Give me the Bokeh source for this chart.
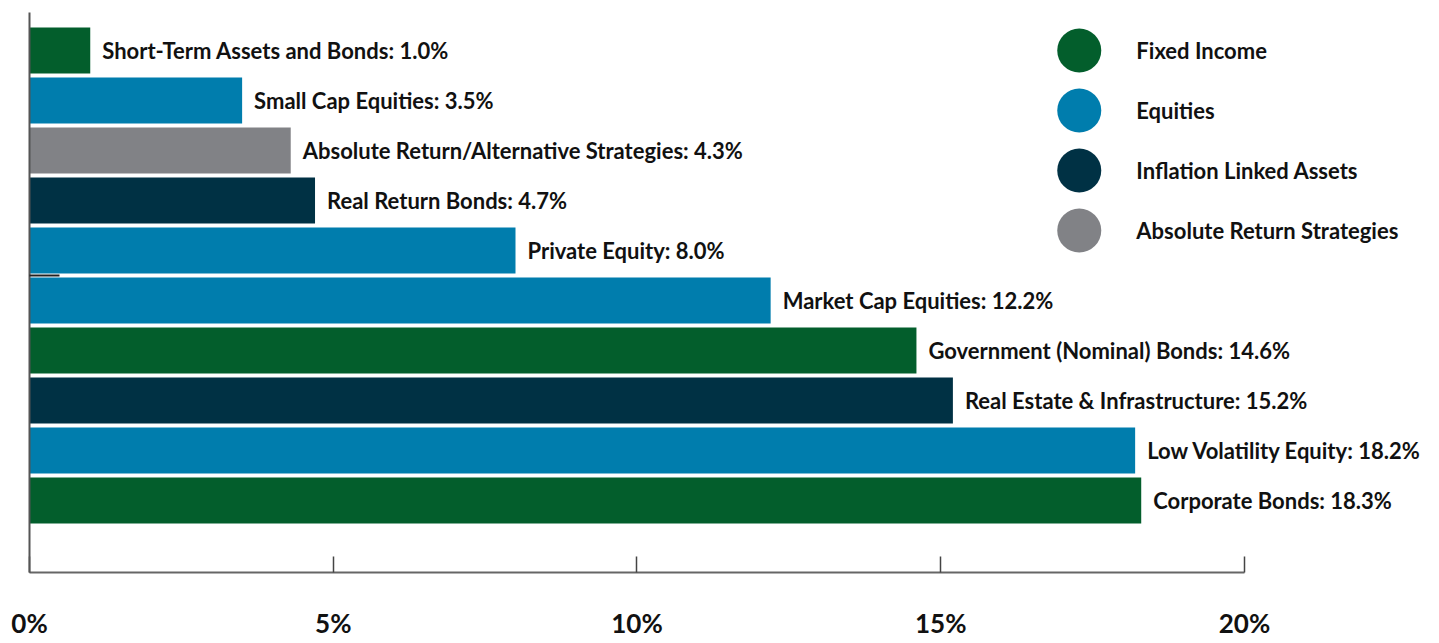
from bokeh.plotting import figure
from bokeh.models import Range1d, LinearAxis, FixedTicker, ColumnDataSource
from bokeh.core.properties import value
from bokeh.embed import file_html
from bokeh.resources import INLINE

# ---- data ----
categories = [
    "Short-Term Assets and Bonds",
    "Small Cap Equities",
    "Absolute Return/Alternative Strategies",
    "Real Return Bonds",
    "Private Equity",
    "Market Cap Equities",
    "Government (Nominal) Bonds",
    "Real Estate & Infrastructure",
    "Low Volatility Equity",
    "Corporate Bonds",
]
weights = [1.0, 3.5, 4.3, 4.7, 8.0, 12.2, 14.6, 15.2, 18.2, 18.3]
groups = [
    "Fixed Income", "Equities", "Absolute Return Strategies", "Inflation Linked Assets",
    "Equities", "Equities", "Fixed Income", "Inflation Linked Assets", "Equities", "Fixed Income",
]
legend_labels = ["Fixed Income", "Equities", "Inflation Linked Assets", "Absolute Return Strategies"]
x_ticks = [0, 5, 10, 15, 20]
x_tick_labels = ["0%", "5%", "10%", "15%", "20%"]

# ---- styles ----
palette = {
    "Fixed Income": "#035E2C",
    "Equities": "#007DAD",
    "Inflation Linked Assets": "#003144",
    "Absolute Return Strategies": "#818286",
}
FONT = value("Lato")

n = len(categories)
ys = list(range(n))
src = ColumnDataSource(dict(
    y=ys,
    w=weights,
    color=[palette[g] for g in groups],
    label=[f"{c}: {v:.1f}%" for c, v in zip(categories, weights)],
))

p = figure(width=1439, height=643, output_backend="svg", toolbar_location=None,
           x_range=Range1d(0, 23.21), y_range=Range1d(10.44, -0.76),
           x_axis_type=None, y_axis_type=None,
           min_border_left=29, min_border_right=0, min_border_top=12, min_border_bottom=71)
p.outline_line_color = None
p.xgrid.visible = False
p.ygrid.visible = False

p.hbar(y="y", left=0, right="w", height=0.92, color="color", line_color=None, source=src)
p.text(x="w", y="y", text="label", x_offset=12, text_baseline="middle", text_align="left",
       text_font=FONT, text_font_style="bold", text_font_size="22px", text_color="#111111",
       source=src)

# legend (manual, in data space)
lx_circle = 17.28
lx_text = 18.22
ly = [i * 1.2 for i in range(len(legend_labels))]
p.scatter(x=[lx_circle] * len(legend_labels), y=ly, size=44,
          color=[palette[g] for g in legend_labels], line_color=None)
p.text(x=[lx_text] * len(legend_labels), y=ly, text=legend_labels, text_baseline="middle",
       text_font=FONT, text_font_style="bold", text_font_size="22px", text_color="#111111")

# x axis
xa = LinearAxis(ticker=FixedTicker(ticks=x_ticks), bounds=(0, 20),
                major_label_overrides={t: l for t, l in zip(x_ticks, x_tick_labels)})
xa.axis_line_color = "#666666"
xa.axis_line_width = 2
xa.major_tick_in = 16
xa.major_tick_out = 0
xa.major_tick_line_color = "#444444"
xa.major_tick_line_width = 1.5
xa.minor_tick_line_color = None
xa.major_label_standoff = 34
xa.major_label_text_font = "Lato"
xa.major_label_text_font_style = "bold"
xa.major_label_text_font_size = "26px"
xa.major_label_text_color = "#111111"
p.add_layout(xa, "below")

# y axis (line only, one small inner tick)
ya = LinearAxis(ticker=FixedTicker(ticks=[4.5]), major_label_overrides={4.5: ""})
ya.axis_line_color = "#555555"
ya.axis_line_width = 2
ya.major_tick_in = 30
ya.major_tick_out = 0
ya.major_tick_line_color = "#222222"
ya.major_tick_line_width = 2
ya.minor_tick_line_color = None
ya.major_label_standoff = 0
ya.major_label_text_font_size = "1px"
p.add_layout(ya, "left")

open("out.html", "w").write(file_html(p, INLINE))
